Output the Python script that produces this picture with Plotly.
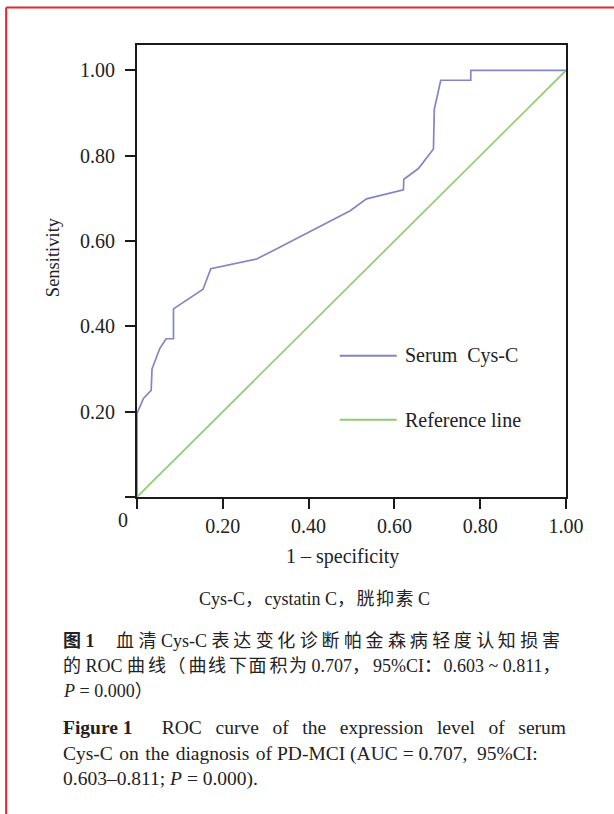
import plotly.graph_objects as go

# ---- data ----
fpr = [0, 0, 0.015, 0.033, 0.035, 0.053, 0.068, 0.085, 0.085, 0.154, 0.172, 0.279, 0.318,
       0.403, 0.497, 0.535, 0.621, 0.622, 0.656, 0.691, 0.693, 0.708, 0.778, 0.778, 1.0]
tpr = [0, 0.196, 0.231, 0.25, 0.30, 0.348, 0.371, 0.371, 0.441, 0.487, 0.535, 0.558, 0.578,
       0.623, 0.671, 0.699, 0.72, 0.745, 0.77, 0.816, 0.909, 0.977, 0.977, 1.0, 1.0]
ref_x = [0, 1]
ref_y = [0, 1]
tick_vals = [0, 0.2, 0.4, 0.6, 0.8, 1.0]
y_tick_text = ["", "0.20", "0.40", "0.60", "0.80", "1.00"]
x_tick_text = ["", "0.20", "0.40", "0.60", "0.80", "1.00"]
series_names = ["Serum Cys-C", "Reference line"]

W, H = 614, 814
L, R, T, B = 137, 566.5, 44.5, 497.5

def px(x):
    return (x - L) / (R - L)

def py(y):
    return (B - y) / (B - T)

def is_cjk(c):
    return ord(c) > 0x2E80

def spread(s, seps):
    """insert spacing characters between consecutive CJK characters (letter-spacing look)"""
    out = []
    k = 0
    for i, c in enumerate(s):
        out.append(c)
        if i < len(s) - 1 and is_cjk(c) and s[i + 1] != " ":
            out.append(seps[k % len(seps)])
            k += 1
    return "".join(out)

SERIF = "Liberation Serif, Noto Sans CJK SC, serif"
PURPLE = "#8585c6"
GREEN = "#8fcb74"
INK = "#222222"

fig = go.Figure()
fig.add_trace(go.Scatter(x=fpr, y=tpr, mode="lines", name=series_names[0],
                         line=dict(color=PURPLE, width=1.7), showlegend=False))
fig.add_trace(go.Scatter(x=ref_x, y=ref_y, mode="lines", name=series_names[1],
                         line=dict(color=GREEN, width=1.7), showlegend=False))

axis_common = dict(showgrid=False, zeroline=False, showline=True, linecolor="#1a1a1a",
                   linewidth=2, mirror=True, ticks="outside", ticklen=10, tickwidth=2,
                   tickcolor="#1a1a1a", tickfont=dict(family=SERIF, size=20, color=INK),
                   layer="above traces")
fig.update_xaxes(range=[0, 1], tickvals=tick_vals, ticktext=x_tick_text, **axis_common)
fig.update_yaxes(range=[0, (B - T) / (B - 70)], tickvals=tick_vals, ticktext=y_tick_text,
                 ticklabelstandoff=6, **axis_common)

shapes = []
# red page border
shapes.append(dict(type="line", xref="paper", yref="paper", x0=px(6), x1=px(6),
                   y0=py(7), y1=py(H + 5), line=dict(color="#e8262b", width=2)))
shapes.append(dict(type="line", xref="paper", yref="paper", x0=px(6), x1=px(W + 5),
                   y0=py(7), y1=py(7), line=dict(color="#e8262b", width=2)))
# legend samples
for yy, col in [(356, PURPLE), (420, GREEN)]:
    shapes.append(dict(type="line", xref="paper", yref="paper", x0=px(340), x1=px(397),
                       y0=py(yy), y1=py(yy), line=dict(color=col, width=2)))

ann = []
def text(x, y, s, size=20, anchor="left", angle=0):
    ann.append(dict(x=px(x), y=py(y), xref="paper", yref="paper", text=s, showarrow=False,
                    xanchor=anchor, yanchor="middle", textangle=angle,
                    font=dict(family=SERIF, size=size, color=INK)))

text(403, 356, series_names[0].replace(" ", "\u2002"), 20)
text(403, 420, series_names[1], 20)
text(123, 521, "0", 20, "center")
text(343, 557, "1 – specificity", 20, "center")
text(53, 257, "Sensitivity", 18.5, "center", angle=-90)
text(314.5, 600, spread("Cys-C，cystatin C，胱抑素 C", ["\u200a"]), 18, "center")

cn1 = "<b>图 1</b>\u2003\u2009" + spread("血清 Cys-C 表达变化诊断帕金森病轻度认知损害", ["\u2005", "\u2009"])
cn2 = spread("的 ROC 曲线（曲线下面积为 0.707，95%CI：0.603 ~ 0.811，", ["\u2006", "\u200a"])
cn3 = "<i>P</i> = 0.000）"
text(61, 642, cn1, 18)
text(61, 667, cn2, 18)
text(61, 692, cn3, 18)

en1 = "<b>Figure 1</b>\u2003\u2002ROC\u2002\u2009curve\u2002\u2009of\u2002\u2009the\u2002\u2009expression\u2002\u2009level\u2002\u2009of\u2002\u2009serum"
en2 = "Cys-C\u2005\u200aon\u2005\u200athe\u2005\u200adiagnosis\u2005\u200aof\u2005PD-MCI\u2005(AUC = 0.707,\u2005 95%CI:"
en3 = "0.603–0.811; <i>P</i> = 0.000)."
text(61, 729, en1, 19.5)
text(61, 755, en2, 19.5)
text(61, 780, en3, 19.5)

fig.update_layout(width=W, height=H, margin=dict(l=L, r=W - R, t=T, b=H - B, pad=0),
                  plot_bgcolor="white", paper_bgcolor="white", shapes=shapes,
                  annotations=ann, showlegend=False)
fig.write_html("out.html", config={"displayModeBar": False},
               post_script="document.body.style.margin='0';")
